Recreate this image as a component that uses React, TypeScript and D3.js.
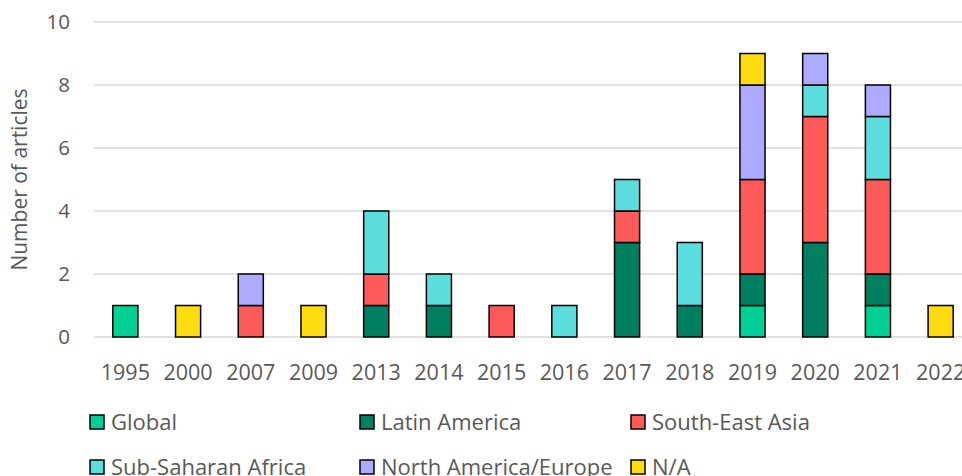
import React from "react";
import * as d3 from "d3";

const years = ["1995", "2000", "2007", "2009", "2013", "2014", "2015", "2016", "2017", "2018", "2019", "2020", "2021", "2022"];
const regions = ["Global", "Latin America", "South-East Asia", "Sub-Saharan Africa", "North America/Europe", "N/A"];
const global = [1, 0, 0, 0, 0, 0, 0, 0, 0, 0, 1, 0, 1, 0];
const latinAmerica = [0, 0, 0, 0, 1, 1, 0, 0, 3, 1, 1, 3, 1, 0];
const southEastAsia = [0, 0, 1, 0, 1, 0, 1, 0, 1, 0, 3, 4, 3, 0];
const subSaharanAfrica = [0, 0, 0, 0, 2, 1, 0, 1, 1, 2, 0, 1, 2, 0];
const northAmericaEurope = [0, 0, 1, 0, 0, 0, 0, 0, 0, 0, 3, 1, 1, 0];
const notAvailable = [0, 1, 0, 1, 0, 0, 0, 0, 0, 0, 1, 0, 0, 1];
const yTicks = [0, 2, 4, 6, 8, 10];

const colors = ["#00d096", "#008060", "#ff5a5a", "#5cdede", "#aeaaff", "#ffdc0f"];
const seriesValues = [global, latinAmerica, southEastAsia, subSaharanAfrica, northAmericaEurope, notAvailable];

const W = 962;
const H = 476;
const FONT = "'Open Sans', 'Noto Sans', sans-serif";
const TXT = "#595959";

export default function App() {
  const x = d3.scaleBand().domain(years).range([94, 972]).paddingInner(0.6).paddingOuter(0.3);
  const y = d3.scaleLinear().domain([0, 10]).range([337, 22]);

  const table = years.map((yr, i) => {
    const row: Record<string, number | string> = { year: yr };
    regions.forEach((r, k) => (row[r] = seriesValues[k][i]));
    return row;
  });
  const stacked = d3.stack<any>().keys(regions)(table);

  const legendCols = [90, 360, 631];
  const legendRows = [422, 467];

  return (
    <svg width={W} height={H} style={{ position: "absolute", left: 0, top: 0, background: "#fff" }} fontFamily={FONT}>
      {yTicks.map((t) => (
        <g key={t}>
          <line x1={94} x2={W} y1={y(t)} y2={y(t)} stroke="#d9d9d9" strokeWidth={1.5} />
          <text x={70} y={y(t)} dy="0.35em" textAnchor="end" fontSize={20.5} fill={TXT}>
            {t}
          </text>
        </g>
      ))}
      <text
        transform={`translate(27,${y(5)}) rotate(-90)`}
        textAnchor="middle"
        fontSize={21}
        fill={TXT}
      >
        Number of articles
      </text>
      {stacked.map((s, k) =>
        s.map((d, i) =>
          d[1] - d[0] > 0 ? (
            <rect
              key={`${k}-${i}`}
              x={x(years[i])!}
              width={x.bandwidth()}
              y={y(d[1])}
              height={y(d[0]) - y(d[1])}
              fill={colors[k]}
              stroke="#000"
              strokeWidth={1.5}
            />
          ) : null
        )
      )}
      {years.map((yr) => (
        <text key={yr} x={x(yr)! + x.bandwidth() / 2} y={372} dy="0.35em" textAnchor="middle" fontSize={21.5} fill={TXT}>
          {yr}
        </text>
      ))}
      {regions.map((r, k) => {
        const lx = legendCols[k % 3];
        const ly = legendRows[Math.floor(k / 3)];
        return (
          <g key={r}>
            <rect x={lx} y={ly - 7} width={14} height={14} fill={colors[k]} stroke="#000" strokeWidth={1.5} />
            <text x={lx + 21} y={ly} dy="0.35em" fontSize={22} fill={TXT}>
              {r}
            </text>
          </g>
        );
      })}
    </svg>
  );
}
